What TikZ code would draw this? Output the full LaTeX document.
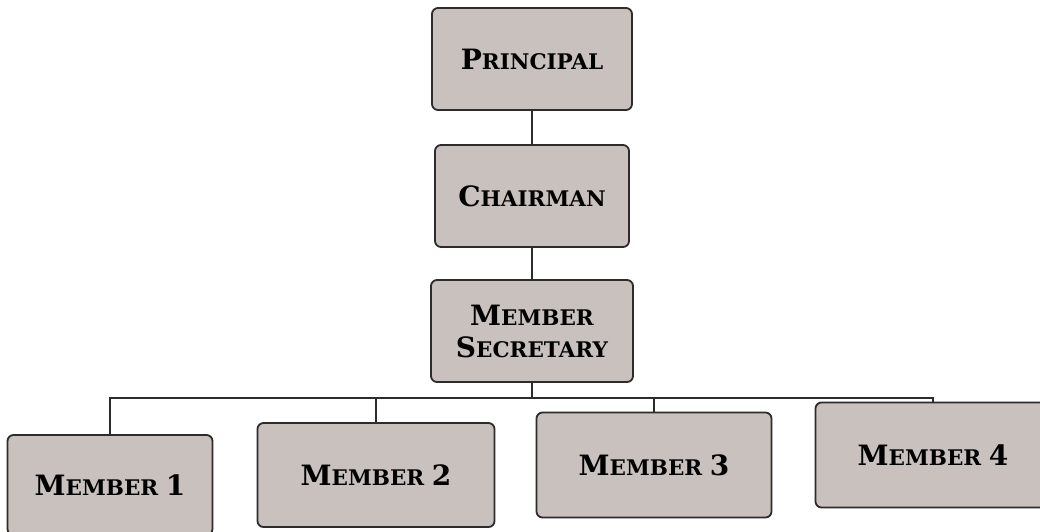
\documentclass[tikz,border=0pt]{standalone}
\usepackage{fontspec}
\setmainfont{DejaVu Serif}
\newcommand{\capbig}[1]{{\fontsize{28}{32}\selectfont #1}}
\newcommand{\capsml}[1]{{\fontsize{21.5}{32}\selectfont #1}}
\definecolor{boxgray}{RGB}{200,193,190}
\definecolor{linegray}{RGB}{45,43,43}
\begin{document}
\begin{tikzpicture}[x=1pt,y=-1pt,
  orgbox/.style={draw=linegray, line width=1.8pt, rounded corners=6pt, fill=boxgray,
    align=center, font=\bfseries\fontsize{21.5}{32}\selectfont, inner sep=0pt},
  conn/.style={draw=linegray, line width=1.4pt}]
\useasboundingbox (0,0) rectangle (1040,531);
\clip (0,0) rectangle (1040,531);
\fill[white] (0,0) rectangle (1040,531);
\node[orgbox, minimum width=200pt, minimum height=102pt] (principal) at (532,59) {\capbig{P}\capsml{RINCIPAL}};
\node[orgbox, minimum width=194pt, minimum height=102pt] (chairman) at (532,196) {\capbig{C}\capsml{HAIRMAN}};
\node[orgbox, minimum width=202pt, minimum height=102pt] (secretary) at (532,331) {\capbig{M}\capsml{EMBER}\\\capbig{S}\capsml{ECRETARY}};
\node[orgbox, minimum width=205pt, minimum height=100pt] (m1) at (110,485) {\capbig{M}\capsml{EMBER} \capbig{1}};
\node[orgbox, minimum width=237pt, minimum height=104pt] (m2) at (376,475) {\capbig{M}\capsml{EMBER} \capbig{2}};
\node[orgbox, minimum width=235pt, minimum height=105pt] (m3) at (654,465) {\capbig{M}\capsml{EMBER} \capbig{3}};
\node[orgbox, minimum width=235pt, minimum height=105pt] (m4) at (933,455) {\capbig{M}\capsml{EMBER} \capbig{4}};
\coordinate (bus) at (532,398);
\draw[conn] (principal.south) -- (chairman.north);
\draw[conn] (chairman.south) -- (secretary.north);
\draw[conn] (secretary.south) -- (bus);
\draw[conn] (m1.north) -- (m1.north |- bus) -- (m4.north |- bus) -- (m4.north);
\draw[conn] (m2.north) -- (m2.north |- bus);
\draw[conn] (m3.north) -- (m3.north |- bus);
\end{tikzpicture}
\end{document}
